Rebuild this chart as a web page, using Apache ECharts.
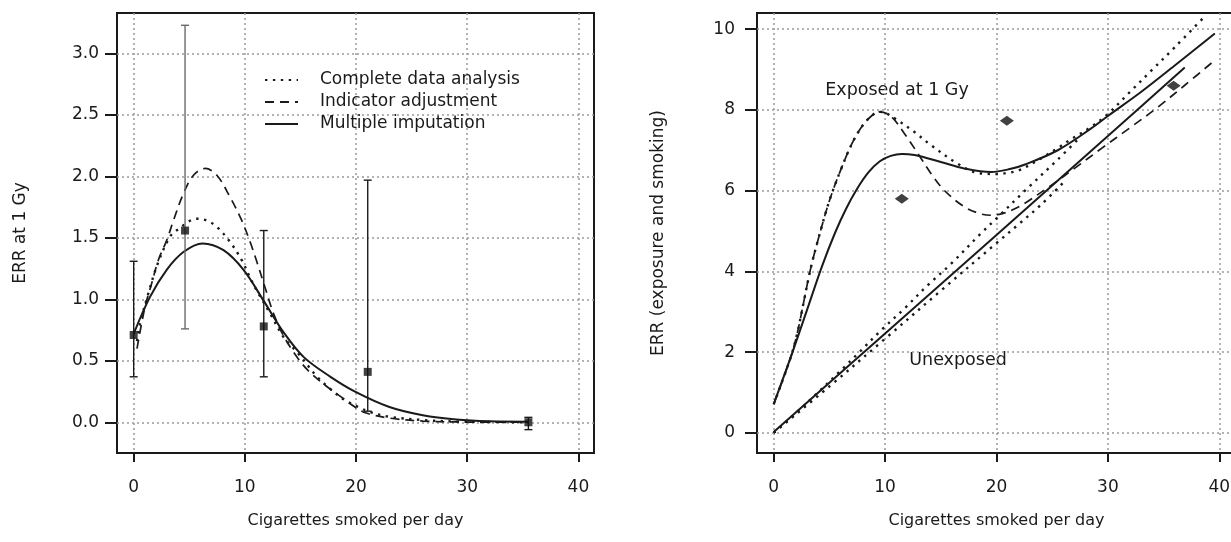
<!DOCTYPE html>
<html><head><meta charset="utf-8">
<script src="https://cdn.jsdelivr.net/npm/echarts@6/dist/echarts.min.js"></script>
<style>html,body{margin:0;padding:0;background:#fff}#c{width:1231px;height:542px}</style>
</head><body><div id="c"></div>
<script>
// ---- tick labels / categories ----
const xTicks = [0, 10, 20, 30, 40];
const leftYTicks = [0, 0.5, 1, 1.5, 2, 2.5, 3];
const rightYTicks = [0, 2, 4, 6, 8, 10];
const seriesNames = ['Complete data analysis', 'Indicator adjustment', 'Multiple imputation'];

// ---- left panel: ERR at 1 Gy ----
const leftComplete = [[0.3,0.66],[0.57,0.8],[1.32,1.05],[2.2,1.3],[3.27,1.51],[4.0,1.57],[5.67,1.656],[6.6,1.64],[7.48,1.59],[8.68,1.466],[9.73,1.317],[10.5,1.17],[11.08,1.07],[12.3,0.88],[13.5,0.69],[14.8,0.56],[16.5,0.37],[17.7,0.27],[19,0.18],[20.2,0.125],[21.2,0.085],[23,0.045],[26,0.018],[29,0.006],[32,0.002],[35.5,0.0]];
const leftIndicator = [[0.3,0.6],[1.02,0.94],[1.62,1.13],[2.22,1.32],[2.97,1.48],[3.57,1.64],[4.47,1.86],[5.38,2.01],[6.43,2.065],[7.48,2.01],[8.68,1.83],[9.73,1.64],[10.5,1.46],[11.1,1.3],[11.8,1.1],[12.6,0.88],[13.5,0.7],[14.7,0.53],[15.7,0.42],[17.1,0.31],[18.9,0.19],[19.9,0.124],[20.9,0.075],[23,0.034],[26,0.01],[30,0.002],[35.5,0.0]];
const leftMultiple = [[0,0.72],[1.47,1.02],[2.97,1.24],[4.47,1.385],[6.2,1.455],[8.08,1.4],[9.88,1.24],[11.68,0.99],[13.5,0.73],[15.3,0.53],[17.7,0.37],[20,0.245],[23,0.124],[26,0.057],[29,0.022],[32,0.008],[35.5,0.005]];
const leftPointX = [0, 4.62, 11.7, 21.05, 35.5];
const leftPointY = [0.71, 1.56, 0.78, 0.41, 0.0];
const leftCILow = [0.37, 0.76, 0.37, 0.09, -0.06];
const leftCIHigh = [1.31, 3.23, 1.56, 1.97, 0.04];

// ---- right panel: ERR (exposure and smoking) ----
const exposedComplete = [[0,0.71],[1.5,1.85],[2.1,2.45],[2.7,3.25],[3.3,4.05],[4,4.8],[5,5.75],[6,6.5],[7,7.15],[8,7.62],[9,7.9],[9.6,7.95],[10.2,7.9],[11.14,7.74],[12.64,7.45],[14.1,7.13],[16.5,6.67],[18.3,6.44],[20.1,6.41],[21,6.44],[22,6.5],[23.7,6.75],[25.3,7.02],[26.8,7.29],[28.5,7.58],[30,7.9],[32,8.45],[34,9.0],[36,9.55],[38.5,10.26]];
const exposedIndicator = [[0,0.71],[1.5,1.85],[2.1,2.45],[2.7,3.25],[3.3,4.05],[4,4.8],[5,5.75],[6,6.5],[7,7.15],[8,7.62],[9,7.9],[9.5,7.95],[10.5,7.85],[11.74,7.41],[12.94,6.92],[14.13,6.42],[15.3,6.01],[17.1,5.6],[18.5,5.43],[19.5,5.39],[20.5,5.43],[21.5,5.53],[22.5,5.68],[24.9,6.13],[27,6.55],[29.4,7.04],[32.1,7.58],[34.5,8.07],[36.9,8.61],[39.6,9.23]];
const exposedMultiple = [[0,0.71],[1.5,1.85],[3,3.05],[4.3,4.1],[5.5,4.95],[6.5,5.55],[7.5,6.05],[8.5,6.45],[9.5,6.72],[10.5,6.86],[11.5,6.91],[12.64,6.88],[15,6.71],[17.1,6.55],[19.5,6.46],[21.3,6.54],[22.5,6.64],[25.5,7.0],[28.5,7.54],[30,7.85],[33,8.45],[36,9.1],[39.6,9.89]];
const unexposedComplete = [[0,0],[3.05,0.76],[6.2,1.59],[7.55,1.96],[9.64,2.54],[11.74,3.08],[13.84,3.66],[15.93,4.19],[18.6,4.94],[20,5.31],[22.6,6.01],[25.5,6.77],[27.5,7.32]];
const unexposedIndicator = [[0,0],[5,1.15],[10,2.33],[15,3.52],[20,4.7],[22,5.17],[24,5.65],[26,6.2]];
const unexposedMultiple = [[0,0.02],[10,2.46],[20,4.9],[30,7.35],[36.9,9.05]];
const diamondX = [11.5, 20.93, 35.9];
const diamondY = [5.8, 7.73, 8.6];

// ---- build ----
const FONT = "'DejaVu Sans', sans-serif";
const INK = '#1a1a1a';
const solidStyle = {color: INK, width: 2, type: 'solid'};
const dottedStyle = {color: INK, width: 2.4, type: [2.4, 5.5]};
const dashedStyle = {color: INK, width: 1.7, type: [9, 6]};

function xAxisCfg(gi, min, max) {
  return {
    type: 'value', gridIndex: gi, min: min, max: max,
    axisLine: {show: false, onZero: false},
    axisTick: {show: true, length: 9, customValues: xTicks, lineStyle: {color: INK, width: 2}},
    axisLabel: {customValues: xTicks, margin: 26, fontSize: 17, color: INK, fontFamily: FONT},
    splitLine: {show: true, lineStyle: {color: '#9a9a9a', width: 1.5, type: [2, 3]}},
    name: 'Cigarettes smoked per day', nameLocation: 'middle', nameGap: 60,
    nameTextStyle: {fontSize: 16, color: INK, fontFamily: FONT}
  };
}
function yAxisCfg(gi, min, max, ticks, name, gap, fmt, split, margin) {
  return {
    type: 'value', gridIndex: gi, min: min, max: max, splitNumber: split,
    axisLine: {show: false, onZero: false},
    axisTick: {show: true, length: 12, customValues: ticks, lineStyle: {color: INK, width: 2}},
    axisLabel: {customValues: ticks, margin: margin, fontSize: 17, color: INK, fontFamily: FONT, formatter: fmt},
    splitLine: {show: true, lineStyle: {color: '#9a9a9a', width: 1.5, type: [2, 3]}},
    name: name, nameLocation: 'middle', nameGap: gap,
    nameTextStyle: {fontSize: 17, color: INK, fontFamily: FONT}
  };
}
function lineS(name, data, style, xi, yi, z) {
  return {type: 'line', name: name, data: data, xAxisIndex: xi, yAxisIndex: yi, symbol: 'none', showSymbol: false,
    smooth: 0.35, lineStyle: style, itemStyle: {color: INK}, clip: false, z: z || 3, silent: true};
}

const errData = leftPointX.map((x, i) => [x, leftCILow[i], leftCIHigh[i]]);

const option = {
  animation: false,
  backgroundColor: '#fff',
  grid: [
    {left: 117, top: 13, width: 477, height: 440, show: true, borderColor: INK, borderWidth: 2, backgroundColor: 'transparent', containLabel: false, outerBoundsMode: 'none'},
    {left: 757, top: 13, width: 479, height: 440, show: true, borderColor: INK, borderWidth: 2, backgroundColor: 'transparent', containLabel: false, outerBoundsMode: 'none'}
  ],
  xAxis: [xAxisCfg(0, -1.5, 41.4), xAxisCfg(1, -1.5, 41.5)],
  yAxis: [
    yAxisCfg(0, -0.25, 3.33, leftYTicks, 'ERR at 1 Gy', 88, v => v.toFixed(1), 7, 18),
    yAxisCfg(1, -0.5, 10.4, rightYTicks, 'ERR (exposure and smoking)', 90, v => String(v), 5, 22)
  ],
  legend: {
    left: 259, top: 66, orient: 'vertical', itemWidth: 33, itemHeight: 14, itemGap: 4,
    data: seriesNames, selectedMode: false,
    itemStyle: {opacity: 0, borderWidth: 0},
    textStyle: {fontSize: 17, color: INK, fontFamily: FONT, padding: [0, 0, 0, 17], lineHeight: 18}
  },
  graphic: [
    {type: 'text', x: 897, y: 90, style: {text: 'Exposed at 1 Gy', fill: INK, font: '17.5px ' + FONT, align: 'center', verticalAlign: 'middle'}},
    {type: 'text', x: 958, y: 360, style: {text: 'Unexposed', fill: INK, font: '17.5px ' + FONT, align: 'center', verticalAlign: 'middle'}}
  ],
  series: [
    lineS(seriesNames[0], leftComplete, dottedStyle, 0, 0),
    lineS(seriesNames[1], leftIndicator, dashedStyle, 0, 0),
    lineS(seriesNames[2], leftMultiple, solidStyle, 0, 0),
    {
      type: 'custom', name: 'CI', xAxisIndex: 0, yAxisIndex: 0, data: errData, clip: false, z: 4, silent: true,
      encode: {x: 0, y: [1, 2]},
      renderItem: function (params, api) {
        const x = api.value(0), lo = api.value(1), hi = api.value(2);
        const p1 = api.coord([x, lo]), p2 = api.coord([x, hi]);
        const w = 4;
        const c = params.dataIndex === 1 ? '#6a6a6a' : INK;
        const st = {stroke: c, lineWidth: 1.4};
        return {type: 'group', children: [
          {type: 'line', shape: {x1: p1[0], y1: p1[1], x2: p2[0], y2: p2[1]}, style: st},
          {type: 'line', shape: {x1: p1[0] - w, y1: p1[1], x2: p1[0] + w, y2: p1[1]}, style: st},
          {type: 'line', shape: {x1: p2[0] - w, y1: p2[1], x2: p2[0] + w, y2: p2[1]}, style: st}
        ]};
      }
    },
    {type: 'scatter', name: 'Estimates', xAxisIndex: 0, yAxisIndex: 0, symbol: 'rect', symbolSize: 8,
      data: leftPointX.map((x, i) => [x, leftPointY[i]]), itemStyle: {color: '#111'}, z: 5, silent: true},

    lineS(seriesNames[0], exposedComplete, dottedStyle, 1, 1),
    lineS(seriesNames[1], exposedIndicator, dashedStyle, 1, 1),
    lineS(seriesNames[2], exposedMultiple, solidStyle, 1, 1),
    lineS('Unexposed complete', unexposedComplete, dottedStyle, 1, 1),
    lineS('Unexposed indicator', unexposedIndicator, dottedStyle, 1, 1),
    lineS('Unexposed multiple', unexposedMultiple, solidStyle, 1, 1),
    {type: 'scatter', name: 'Observed', xAxisIndex: 1, yAxisIndex: 1, symbol: 'diamond', symbolSize: [14, 10],
      data: diamondX.map((x, i) => [x, diamondY[i]]), itemStyle: {color: '#111'}, z: 5, silent: true}
  ]
};
const chart = echarts.init(document.getElementById('c'), null, {renderer: 'canvas'});
chart.setOption(option);
</script>
</body></html>
